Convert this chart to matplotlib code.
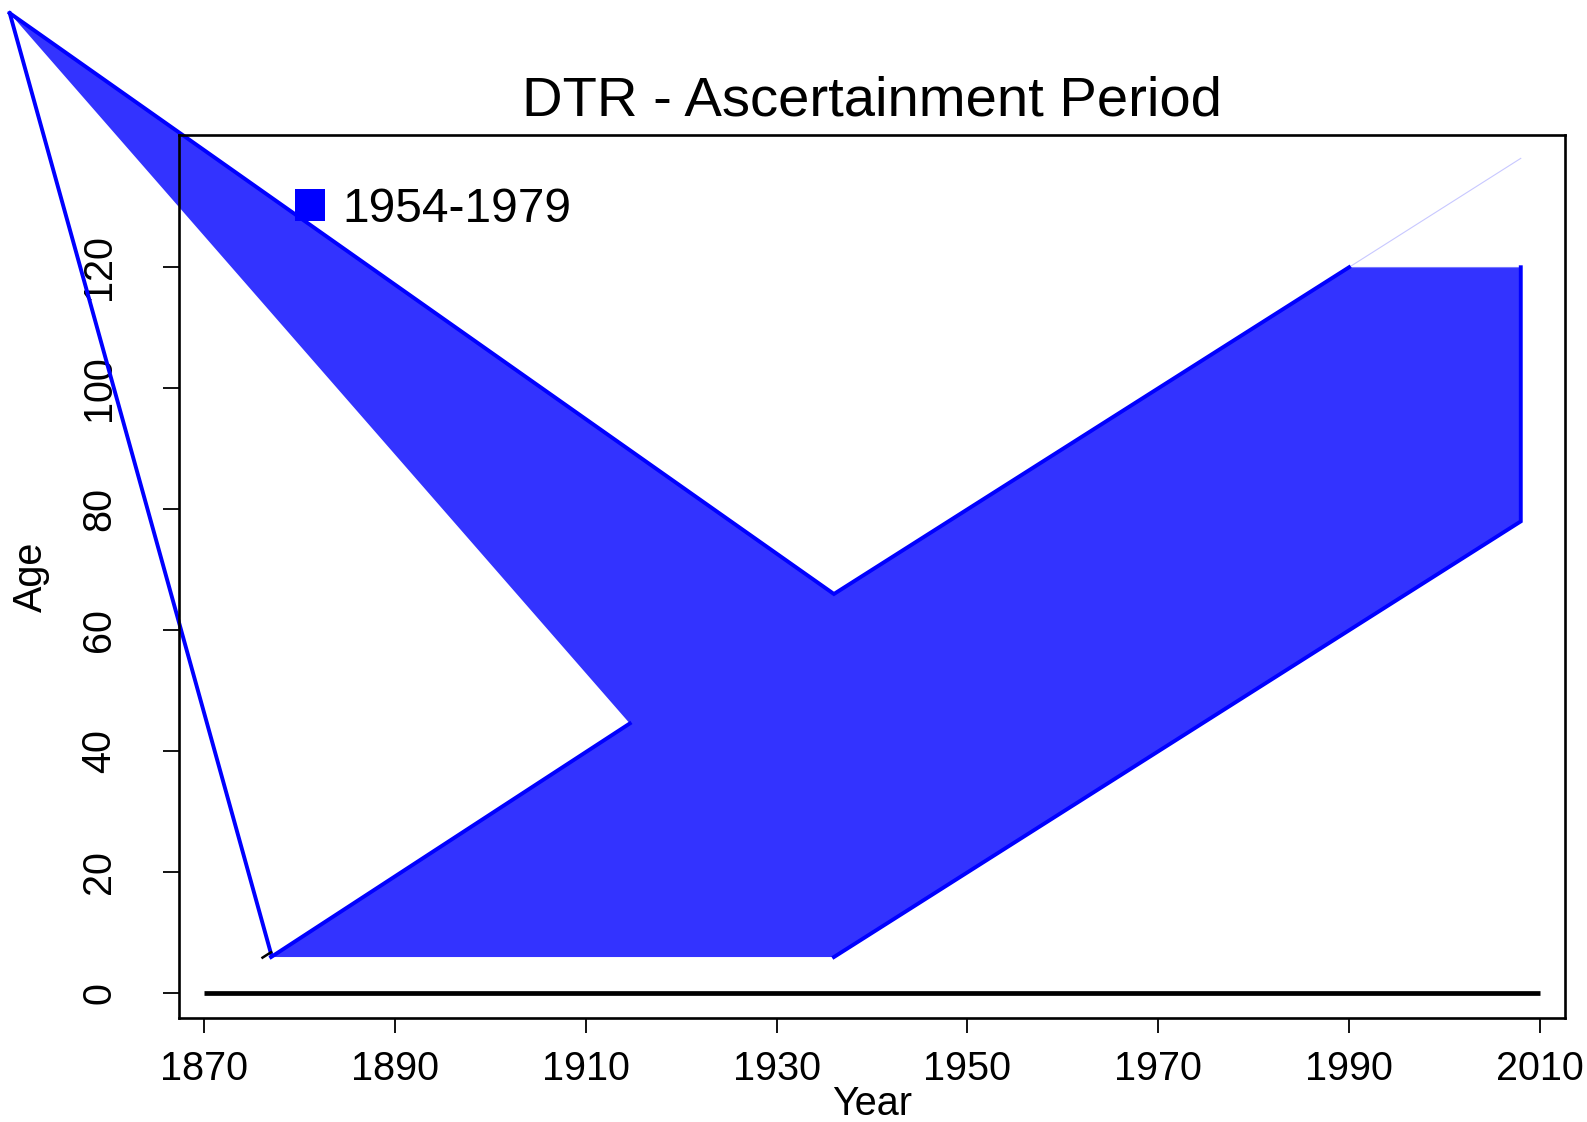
import matplotlib
matplotlib.use("Agg")
import matplotlib.pyplot as plt
from matplotlib.patches import Patch

plt.rcParams['font.family'] = ['Liberation Sans', 'DejaVu Sans']

# ascertainment region in the Lexis plane (calendar year vs age)
region_year = [1849.6, 1936, 1990, 2008, 2008, 1936, 1877, 1914.6]
region_age = [162, 66, 120, 120, 78, 6, 6, 44.6]

# outline pieces drawn on top of the fill
left_year = [1877, 1849.6]
left_age = [6.5, 162]
upper_year = [1849.6, 1936, 1990]
upper_age = [162, 66, 120]
right_year = [2008, 2008, 1936]
right_age = [120, 78, 6]
inner_year = [1877, 1914.6]
inner_age = [6, 44.6]
faint_year = [1990, 2008]
faint_age = [120, 138]
cap_year = [1990, 2008]
cap_age = [120, 120]

zero_year = [1870, 2010]
zero_age = [0, 0]

xticks = [1870, 1890, 1910, 1930, 1950, 1970, 1990, 2010]
yticks = [0, 20, 40, 60, 80, 100, 120]
legend_label = "1954-1979"

fig = plt.figure(figsize=(15.87, 11.22), dpi=100)
ax = fig.add_axes([0.1130, 0.0924, 0.8731, 0.7875])

fill_col = '#3333ff'
edge_col = '#0000ff'

ax.fill(region_year, region_age, color=fill_col, lw=0, clip_on=False, zorder=1)
ax.plot(cap_year, cap_age, color='#7777ff', lw=0.8, clip_on=False, zorder=1.5)
ax.plot(faint_year, faint_age, color='#c8c8ff', lw=0.8, clip_on=False, zorder=1.5)
for xs, ys in [(left_year, left_age), (upper_year, upper_age),
               (right_year, right_age), (inner_year, inner_age)]:
    ax.plot(xs, ys, color=edge_col, lw=2.8, clip_on=False, zorder=2,
            solid_joinstyle='miter')
# small black stub at the lower-left corner
ax.plot([1876.1, 1877], [5.9, 6.8], color='black', lw=1.8, clip_on=False)

ax.plot(zero_year, zero_age, color='black', lw=3.4, solid_capstyle='butt')

ax.set_xlim(1867.38, 2012.63)
ax.set_ylim(-4.13, 141.9)
ax.set_xticks(xticks)
ax.set_yticks(yticks)

for sp in ax.spines.values():
    sp.set_linewidth(1.9)
ax.tick_params(axis='x', length=11, width=1.3, labelsize=28.5, pad=11.5)
ax.tick_params(axis='y', length=11.5, width=1.3, labelsize=28.5, pad=46)
for lab in ax.get_yticklabels():
    lab.set_rotation(90)
    lab.set_ha('center')
    lab.set_va('center')

ax.set_title('DTR - Ascertainment Period', fontsize=40.5, pad=14.2)
ax.set_xlabel('Year', fontsize=28.5)
ax.set_ylabel('Age', fontsize=28.5)
ax.xaxis.set_label_coords(0.5, -0.0755)
ax.yaxis.set_label_coords(-0.0933, 0.5)

handle = Patch(facecolor=edge_col, edgecolor='none')
ax.legend([handle], [legend_label], loc='center left',
          bbox_to_anchor=(0.0835, 0.9155), frameon=False, fontsize=34.5,
          handlelength=0.63, handleheight=0.63, handletextpad=0.35,
          borderpad=0, borderaxespad=0)

fig.savefig('out.png', dpi=100)
